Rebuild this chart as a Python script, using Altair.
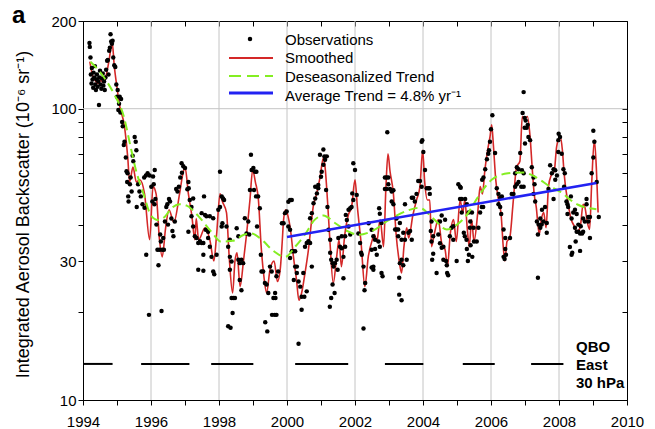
import altair as alt
import pandas as pd

FONT = "Liberation Sans"
RED = "#d42828"
GREEN = "#84ee22"
BLUE = "#2222f2"

# ---------------- data (year, backscatter 1e-6 sr-1) ----------------
obs_1994 = [(1994.19,168),(1994.20,163),(1994.22,150),(1994.23,131),(1994.25,122),(1994.26,138),(1994.28,126),(1994.30,118),(1994.31,133),(1994.33,128),(1994.35,140),(1994.36,121),(1994.38,116),(1994.40,126),(1994.41,131),(1994.43,119),(1994.45,124),(1994.47,103),(1994.48,128),(1994.50,135),(1994.52,121),(1994.54,117),(1994.56,127),(1994.58,132),(1994.60,120),(1994.62,124),(1994.64,116),(1994.66,128),(1994.68,136),(1994.71,146),(1994.73,147),(1994.75,131),(1994.77,158),(1994.79,162),(1994.81,180),(1994.83,170),(1994.85,167),(1994.87,171),(1994.89,150),(1994.92,141),(1994.95,139),(1994.98,121)]
obs_1995 = [(1995.00,110),(1995.02,116),(1995.04,99),(1995.06,104),(1995.08,110),(1995.10,97),(1995.12,108),(1995.15,90),(1995.17,87),(1995.20,75),(1995.22,77),(1995.26,68),(1995.28,61),(1995.30,56),(1995.31,60),(1995.33,50),(1995.34,48),(1995.38,55),(1995.40,58),(1995.43,52),(1995.46,69),(1995.48,66),(1995.52,80),(1995.55,77),(1995.57,72),(1995.58,46),(1995.62,55),(1995.66,52),(1995.70,50),(1995.75,47),(1995.80,58),(1995.81,45.7),(1995.85,59),(1995.86,31.5),(1995.90,60),(1995.94,19.6),(1995.96,59)]
obs_1996 = [(1996.01,54),(1996.04,48),(1996.06,58.5),(1996.08,55),(1996.10,47),(1996.11,61.6),(1996.13,49),(1996.16,40),(1996.19,32.8),(1996.22,29),(1996.25,32.8),(1996.27,37),(1996.29,35),(1996.31,20.2),(1996.33,32.8),(1996.36,36),(1996.38,32.8),(1996.41,41),(1996.45,46),(1996.48,47),(1996.50,40),(1996.53,49),(1996.56,48),(1996.60,42),(1996.63,38),(1996.66,36.5),(1996.70,41),(1996.74,53),(1996.78,52),(1996.82,54),(1996.86,58),(1996.90,65),(1996.91,60.3),(1996.95,63.5)]
obs_1997 = [(1997.00,62.6),(1997.07,52.9),(1997.10,56),(1997.11,53.3),(1997.10,37.8),(1997.14,48.6),(1997.19,46),(1997.19,42.7),(1997.24,49.2),(1997.24,39.4),(1997.29,36.5),(1997.34,36),(1997.39,28),(1997.39,34.6),(1997.44,35.1),(1997.49,34.6),(1997.49,43.8),(1997.54,27.8),(1997.54,34.6),(1997.54,31.5),(1997.56,50),(1997.59,43.2),(1997.61,38.4),(1997.63,42.7),(1997.68,37.8),(1997.68,36),(1997.73,42.7),(1997.73,33.6),(1997.78,31),(1997.83,42.1),(1997.83,27.6),(1997.86,27),(1997.93,31.5),(1997.98,45)]
obs_1998 = [(1998.03,60.8),(1998.03,46),(1998.08,50),(1998.08,39.4),(1998.10,40.4),(1998.12,49.2),(1998.15,48.6),(1998.22,39.4),(1998.27,33.6),(1998.27,17.9),(1998.32,35.5),(1998.32,31),(1998.32,28),(1998.34,17.7),(1998.37,29.9),(1998.37,22.4),(1998.40,19.9),(1998.42,22.4),(1998.47,22.4),(1998.52,38.9),(1998.57,36.5),(1998.57,30.3),(1998.61,29.5),(1998.61,25.8),(1998.66,30.3),(1998.66,23.8),(1998.71,29.5),(1998.76,42.1),(1998.81,37.3),(1998.86,41),(1998.89,37),(1998.91,52.6),(1998.94,69.5),(1998.96,61.6)]
obs_1999 = [(1999.01,62.6),(1999.03,52.6),(1999.06,60.8),(1999.09,50),(1999.10,60.8),(1999.12,39.4),(1999.15,50),(1999.20,45.5),(1999.23,31.5),(1999.25,27.6),(1999.30,27.6),(1999.35,25.2),(1999.36,18.5),(1999.40,24.9),(1999.42,17.2),(1999.45,23.3),(1999.50,28.7),(1999.55,27.6),(1999.56,19.6),(1999.60,22.4),(1999.64,19.6),(1999.65,23.3),(1999.66,22.4),(1999.69,19.6),(1999.69,26.6),(1999.74,27.6),(1999.85,40.4),(1999.90,40.4),(1999.94,43.8),(1999.99,44.4)]
obs_2000 = [(2000.04,47.9),(2000.04,39.4),(2000.09,48.6),(2000.09,38.4),(2000.09,30.7),(2000.14,48.6),(2000.14,32.4),(2000.19,32.4),(2000.20,25.8),(2000.24,32.4),(2000.24,28.7),(2000.29,28.7),(2000.29,27.3),(2000.34,25.5),(2000.34,15.6),(2000.39,24.5),(2000.43,20.4),(2000.43,22.6),(2000.48,27.3),(2000.51,22.6),(2000.53,33.6),(2000.58,34.6),(2000.58,23.6),(2000.63,35.1),(2000.68,34.6),(2000.68,42.1),(2000.73,28.7),(2000.73,43.8),(2000.78,47.4),(2000.83,49.2),(2000.83,54),(2000.88,51.2),(2000.92,53.3),(2000.92,54.7),(2000.97,69.5)]
obs_2001 = [(2001.00,58.4),(2001.02,60.8),(2001.07,64.2),(2001.07,72.4),(2001.10,68.6),(2001.12,66.8),(2001.15,52.6),(2001.17,68.6),(2001.19,46),(2001.22,38.4),(2001.26,20.9),(2001.27,35.5),(2001.27,32),(2001.30,30.3),(2001.30,22.4),(2001.34,29.5),(2001.34,24.9),(2001.37,28.7),(2001.40,23.3),(2001.41,29.5),(2001.46,30.3),(2001.49,28),(2001.51,36),(2001.56,33.6),(2001.61,33.2),(2001.61,36.5),(2001.66,31),(2001.66,26.2),(2001.71,33.6),(2001.71,36.5),(2001.73,43.2),(2001.76,41.5),(2001.81,39.4),(2001.81,45),(2001.86,37),(2001.86,45.5),(2001.90,46),(2001.92,51.2),(2001.95,48.6),(2001.95,65)]
obs_2002 = [(2002.00,61.6),(2002.05,50.6),(2002.10,37.3),(2002.15,34.6),(2002.18,32),(2002.20,31.5),(2002.25,28.7),(2002.25,17.6),(2002.28,23.8),(2002.30,25.2),(2002.40,40.4),(2002.49,38.4),(2002.49,32.8),(2002.49,28.5),(2002.54,36.5),(2002.54,28.7),(2002.54,28),(2002.59,35.5),(2002.59,33),(2002.64,31.5),(2002.69,35),(2002.71,45.5),(2002.73,43.6),(2002.73,33.6),(2002.78,40.5),(2002.78,27.3),(2002.81,26.6),(2002.88,58),(2002.88,53),(2002.93,58),(2002.93,53),(2002.95,83),(2002.98,58),(2002.98,55)]
obs_2003 = [(2003.03,53),(2003.08,52),(2003.08,48),(2003.13,52.5),(2003.13,47),(2003.18,38.5),(2003.22,38.5),(2003.22,42),(2003.27,38.5),(2003.27,36.5),(2003.30,26.3),(2003.30,23),(2003.32,40.5),(2003.32,29.5),(2003.37,35.5),(2003.37,30.3),(2003.37,22),(2003.42,37.5),(2003.42,29),(2003.47,35.5),(2003.47,47),(2003.52,30.3),(2003.57,37.5),(2003.62,38),(2003.67,35.5),(2003.67,49.5),(2003.71,49.5),(2003.76,48),(2003.81,51),(2003.86,56.5),(2003.91,56.5),(2003.96,54),(2003.96,77),(2003.98,78)]
obs_2004 = [(2004.01,71),(2004.06,61.6),(2004.11,53.3),(2004.16,53.3),(2004.19,53.3),(2004.20,51),(2004.23,38),(2004.25,41),(2004.25,35),(2004.27,30.3),(2004.30,36.5),(2004.30,31.8),(2004.40,27.3),(2004.45,37),(2004.50,34.5),(2004.50,41),(2004.55,33.3),(2004.55,43),(2004.60,33.6),(2004.60,30.3),(2004.65,41.6),(2004.68,30),(2004.70,29),(2004.71,27.3),(2004.74,26.8),(2004.79,36.5),(2004.84,39),(2004.89,35.5),(2004.89,39.5),(2004.99,30)]
obs_2005 = [(2005.04,55),(2005.09,54),(2005.09,49),(2005.11,53.5),(2005.14,49),(2005.14,44),(2005.20,37.5),(2005.23,36.5),(2005.24,49),(2005.28,35.5),(2005.29,47),(2005.29,33),(2005.32,30),(2005.34,44),(2005.35,31.5),(2005.38,39),(2005.39,41),(2005.40,34),(2005.44,44),(2005.45,31),(2005.49,39),(2005.50,35),(2005.58,35),(2005.63,39),(2005.68,44),(2005.73,46),(2005.74,57),(2005.77,46),(2005.78,58),(2005.83,62),(2005.88,67),(2005.92,70),(2005.94,72),(2005.97,77)]
obs_2006 = [(2006.00,85),(2006.04,95),(2006.12,70.5),(2006.17,53.3),(2006.22,51),(2006.22,47),(2006.27,49.5),(2006.27,46),(2006.30,43.5),(2006.32,50),(2006.37,38.5),(2006.37,31),(2006.40,30.5),(2006.42,36),(2006.42,33),(2006.44,31.5),(2006.56,36),(2006.61,51),(2006.66,51),(2006.71,54),(2006.71,60),(2006.76,63),(2006.76,55),(2006.81,62),(2006.81,56),(2006.86,70.5),(2006.89,54),(2006.91,61.5),(2006.93,96.6),(2006.96,60),(2006.96,54),(2006.96,114),(2006.99,93),(2006.99,86)]
obs_2007 = [(2007.00,76),(2007.02,91),(2007.05,86),(2007.08,88),(2007.10,80),(2007.15,78),(2007.20,63),(2007.25,58),(2007.25,51),(2007.28,55),(2007.30,48),(2007.35,41),(2007.38,37),(2007.38,26.3),(2007.40,40),(2007.45,42),(2007.45,39),(2007.49,40),(2007.50,45),(2007.54,41),(2007.59,46),(2007.64,40.5),(2007.64,37.5),(2007.69,53),(2007.74,64),(2007.79,60),(2007.84,62),(2007.84,49),(2007.89,61.5),(2007.89,57),(2007.94,59),(2007.98,78),(2007.98,71),(2007.99,82)]
obs_2008 = [(2008.03,80),(2008.08,70),(2008.13,62),(2008.15,54),(2008.17,60),(2008.22,48),(2008.25,47),(2008.25,43.5),(2008.27,46),(2008.32,33.5),(2008.35,50),(2008.37,42),(2008.37,31.5),(2008.39,32),(2008.42,44),(2008.47,45),(2008.47,39),(2008.49,35),(2008.52,43.5),(2008.52,37.8),(2008.57,37.8),(2008.57,40),(2008.62,37.3),(2008.62,32.5),(2008.64,39.5),(2008.68,37.3),(2008.71,42),(2008.71,37.8),(2008.76,41),(2008.81,47),(2008.81,49),(2008.86,42.5),(2008.86,41),(2008.91,42.5),(2008.91,36),(2008.96,60)]
obs_2009 = [(2009.01,68),(2009.01,84),(2009.04,77),(2009.11,56),(2009.17,42.5)]

smoothed = [(1994.20,145),(1994.28,130),(1994.36,125),(1994.44,122),(1994.52,125),(1994.60,123),(1994.68,130),(1994.76,145),(1994.86,168),(1994.92,140),(1994.98,123),(1995.08,102),(1995.22,87),(1995.32,67),(1995.37,56),(1995.47,63),(1995.57,56),(1995.67,57),(1995.81,51),(1995.96,35.5),(1996.06,54),(1996.15,51),(1996.25,35.5),(1996.33,31),(1996.43,39),(1996.53,45),(1996.67,40.7),(1996.84,51),(1996.94,60),(1997.00,63),(1997.10,51),(1997.20,43),(1997.29,35.5),(1997.33,42),(1997.40,35.5),(1997.59,39),(1997.73,35.5),(1997.85,30),(1997.93,37),(1998.03,51),(1998.10,48),(1998.22,44),(1998.30,31),(1998.40,23.3),(1998.47,30),(1998.53,32),(1998.62,24.5),(1998.72,30),(1998.81,37),(1998.91,48.6),(1998.99,61.6),(1999.07,56),(1999.16,48.6),(1999.24,33.6),(1999.32,26.6),(1999.40,23.3),(1999.50,28),(1999.62,30),(1999.72,25.5),(1999.80,28),(1999.86,35),(1999.90,41.6),(1999.96,45),(2000.00,44),(2000.12,37),(2000.19,31),(2000.28,25.8),(2000.35,22),(2000.43,23.3),(2000.53,27.3),(2000.63,32.8),(2000.70,39),(2000.77,46),(2000.87,51),(2000.97,58),(2001.07,67.8),(2001.12,63),(2001.19,48.6),(2001.26,35.5),(2001.36,25.2),(2001.46,31),(2001.53,35.5),(2001.60,28.7),(2001.70,37),(2001.80,43),(2001.90,46),(2002.00,57),(2002.07,46),(2002.18,34.5),(2002.29,24.5),(2002.39,31),(2002.51,35.5),(2002.57,37),(2002.64,35),(2002.74,41.6),(2002.84,33.6),(2002.91,54),(2002.97,70),(2003.03,61),(2003.13,51),(2003.21,37),(2003.30,30),(2003.37,27.3),(2003.44,33.6),(2003.52,39),(2003.58,36),(2003.70,43),(2003.81,48.6),(2003.91,54),(2003.99,72),(2004.05,56),(2004.13,48.6),(2004.20,48.6),(2004.25,33.6),(2004.33,37),(2004.45,41.6),(2004.55,34.5),(2004.65,32.8),(2004.72,28.7),(2004.80,37),(2004.90,41.6),(2004.98,35),(2005.09,48.6),(2005.17,44),(2005.23,48.6),(2005.30,39),(2005.36,33.6),(2005.43,41.6),(2005.50,35),(2005.61,44),(2005.68,54),(2005.75,51),(2005.82,61.6),(2005.90,72),(2005.97,80),(2006.02,88),(2006.07,75),(2006.14,57),(2006.22,48.6),(2006.30,43),(2006.36,33.6),(2006.41,30),(2006.47,35),(2006.55,36),(2006.64,46),(2006.69,54),(2006.75,63),(2006.85,66),(2006.92,94),(2006.99,92),(2007.07,94),(2007.15,80),(2007.21,63),(2007.27,51),(2007.33,46),(2007.42,37),(2007.48,41.6),(2007.55,44),(2007.62,39),(2007.69,54),(2007.77,59),(2007.86,61),(2007.93,74),(2008.03,80),(2008.10,72),(2008.15,60),(2008.27,47),(2008.35,42),(2008.45,39.5),(2008.52,37.8),(2008.62,39),(2008.71,47),(2008.76,46),(2008.83,41),(2008.90,38.5),(2008.96,55),(2009.04,78),(2009.10,62),(2009.15,44)]

deseasonalized = [(1994.22,145),(1994.60,129),(1994.90,113),(1995.20,94),(1995.40,74),(1995.55,62),(1995.78,51),(1996.00,43),(1996.20,41.5),(1996.40,42.5),(1996.60,45.5),(1996.85,47),(1997.05,46.5),(1997.40,42.7),(1997.80,37.5),(1998.05,35),(1998.40,35.2),(1998.75,37),(1998.95,37.3),(1999.20,36),(1999.60,32.5),(1999.95,31),(2000.24,33.6),(2000.53,37),(2000.82,41.6),(2001.07,43),(2001.40,40.6),(2001.80,37.9),(2002.10,36.9),(2002.50,38),(2003.00,41.5),(2003.50,44.5),(2003.90,45.7),(2004.30,42),(2004.70,38.5),(2005.00,40),(2005.25,42.6),(2005.63,50),(2006.02,57),(2006.50,60),(2006.94,60.4),(2007.34,58),(2007.74,54),(2008.08,51.5),(2008.30,49),(2008.56,46.8),(2008.95,45.4),(2009.10,45.2)]

avg_trend_years = [2000.0, 2009.1]
avg_trend_values = [36.3, 55.6]

qbo_east_start = [1994.0, 1995.71, 1997.77, 2000.24, 2002.88, 2005.17, 2007.18]
qbo_east_end = [1994.87, 1997.13, 1999.01, 2001.80, 2004.01, 2006.11, 2008.13]
qbo_level = 13.3

grid_years = [1996, 1998, 2000, 2002, 2004, 2006, 2008]
grid_levels = [100]
x_tick_years = list(range(1994, 2011))
y_tick_values = [10, 20, 30, 40, 50, 60, 70, 80, 90, 100, 200]

legend_labels = ["Observations", "Smoothed", "Deseasonalized Trend", "Average Trend = 4.8% yr\u207b\u00b9"]
qbo_lines = ["QBO", "East", "30 hPa"]
y_title = "Integrated Aerosol Backscatter (10\u207b\u2076 sr\u207b\u00b9)"

# ---------------- frames ----------------
def pairs_df(*lists):
    rows = [p for lst in lists for p in lst]
    return pd.DataFrame(rows, columns=["year", "value"])

obs_df = pairs_df(obs_1994, obs_1995, obs_1996, obs_1997, obs_1998, obs_1999, obs_2000,
                  obs_2001, obs_2002, obs_2003, obs_2004, obs_2005, obs_2006, obs_2007,
                  obs_2008, obs_2009)
smooth_df = pairs_df(smoothed)
trend_df = pairs_df(deseasonalized)
avg_df = pd.DataFrame({"year": avg_trend_years, "value": avg_trend_values})
qbo_df = pd.DataFrame({"start": qbo_east_start, "end": qbo_east_end,
                       "level": [qbo_level] * len(qbo_east_start)})
one = pd.DataFrame({"k": [0]})

xs = alt.Scale(domain=[1994, 2010], nice=False, zero=False)
ys = alt.Scale(type="log", domain=[10, 200], nice=False)

common = dict(labelFont=FONT, labelFontSize=15, labelColor="black", tickColor="black",
              domainColor="black", tickSize=5, grid=False, labelOverlap=False)

x_bottom = alt.Axis(orient="bottom", values=x_tick_years, format="d",
                    labelExpr="datum.value % 2 == 0 ? datum.label : ''",
                    title=None, labelPadding=9, labelFlush=False, **common)
y_left = alt.Axis(orient="left", values=y_tick_values, format="d",
                  labelExpr="(datum.value == 10 || datum.value == 30 || datum.value == 100 || datum.value == 200) ? datum.label : ''",
                  title=y_title, titleFont=FONT, titleFontSize=18, titleFontWeight="normal",
                  titleColor="black", titleX=-55, titleY=193, titleBaseline="alphabetic",
                  labelPadding=2, **common)
x_top = alt.Axis(orient="top", values=x_tick_years, labels=False, domain=False, offset=-5,
                 title=None, tickSize=5, tickColor="black", grid=False)
y_right = alt.Axis(orient="right", values=y_tick_values, labels=False, domain=False, offset=-5,
                   title=None, tickSize=5, tickColor="black", grid=False)

grid_v = alt.Chart(pd.DataFrame({"year": grid_years})).mark_rule(color="#c4c4c4", strokeWidth=1).encode(
    x=alt.X("year:Q", scale=xs, axis=None))
grid_h = alt.Chart(pd.DataFrame({"value": grid_levels})).mark_rule(color="#c4c4c4", strokeWidth=1).encode(
    y=alt.Y("value:Q", scale=ys, axis=None))
qbo = alt.Chart(qbo_df).mark_rule(color="black", strokeWidth=2).encode(
    x=alt.X("start:Q", scale=xs, axis=None), x2="end:Q",
    y=alt.Y("level:Q", scale=ys, axis=None))
smooth = alt.Chart(smooth_df).mark_line(color=RED, strokeWidth=1.6, interpolate="monotone").encode(
    x=alt.X("year:Q", scale=xs, axis=x_top), y=alt.Y("value:Q", scale=ys, axis=y_right))
obs = alt.Chart(obs_df).mark_circle(color="black", size=20, opacity=1).encode(
    x=alt.X("year:Q", scale=xs, axis=x_bottom), y=alt.Y("value:Q", scale=ys, axis=y_left))
trend = alt.Chart(trend_df).mark_line(color=GREEN, strokeWidth=2, strokeDash=[9, 5], interpolate="monotone").encode(
    x=alt.X("year:Q", scale=xs, axis=None), y=alt.Y("value:Q", scale=ys, axis=None))
avg = alt.Chart(avg_df).mark_line(color=BLUE, strokeWidth=2.5).encode(
    x=alt.X("year:Q", scale=xs, axis=None), y=alt.Y("value:Q", scale=ys, axis=None))

# legend (drawn inside the plot)
leg = [
    alt.Chart(one).mark_circle(color="black", size=20, opacity=1).encode(x=alt.value(167), y=alt.value(18)),
    alt.Chart(one).mark_rule(color=RED, strokeWidth=2).encode(x=alt.value(146), x2=alt.value(190), y=alt.value(37)),
    alt.Chart(one).mark_rule(color=GREEN, strokeWidth=2, strokeDash=[12, 6]).encode(x=alt.value(146), x2=alt.value(190), y=alt.value(55)),
    alt.Chart(one).mark_rule(color=BLUE, strokeWidth=3).encode(x=alt.value(146), x2=alt.value(190), y=alt.value(72)),
]
for lab, yy in zip(legend_labels, [19, 37, 56, 75]):
    leg.append(alt.Chart(one).mark_text(text=lab, font=FONT, fontSize=15, color="black",
                                         align="left", baseline="middle").encode(
        x=alt.value(202), y=alt.value(yy)))

notes = []
for lab, yy in zip(qbo_lines, [326, 344, 362]):
    notes.append(alt.Chart(one).mark_text(text=lab, font=FONT, fontSize=15, fontWeight="bold",
                                           color="black", align="left", baseline="middle").encode(
        x=alt.value(493), y=alt.value(yy)))
notes.append(alt.Chart(one).mark_text(text="a", font=FONT, fontSize=24, fontWeight="bold",
                                       color="black", align="left", baseline="alphabetic").encode(
    x=alt.value(-71), y=alt.value(2)))

chart = alt.layer(grid_v, grid_h, qbo, smooth, obs, trend, avg, *leg, *notes).resolve_axis(
    x="independent", y="independent"
).properties(
    width=544, height=379,
    padding={"left": 75, "top": 13, "right": 20, "bottom": 30},
    autosize=alt.AutoSizeParams(type="none"),
).configure_view(stroke="black", strokeWidth=1)

chart.save("out.html", embed_options={"renderer": "svg", "actions": False})
